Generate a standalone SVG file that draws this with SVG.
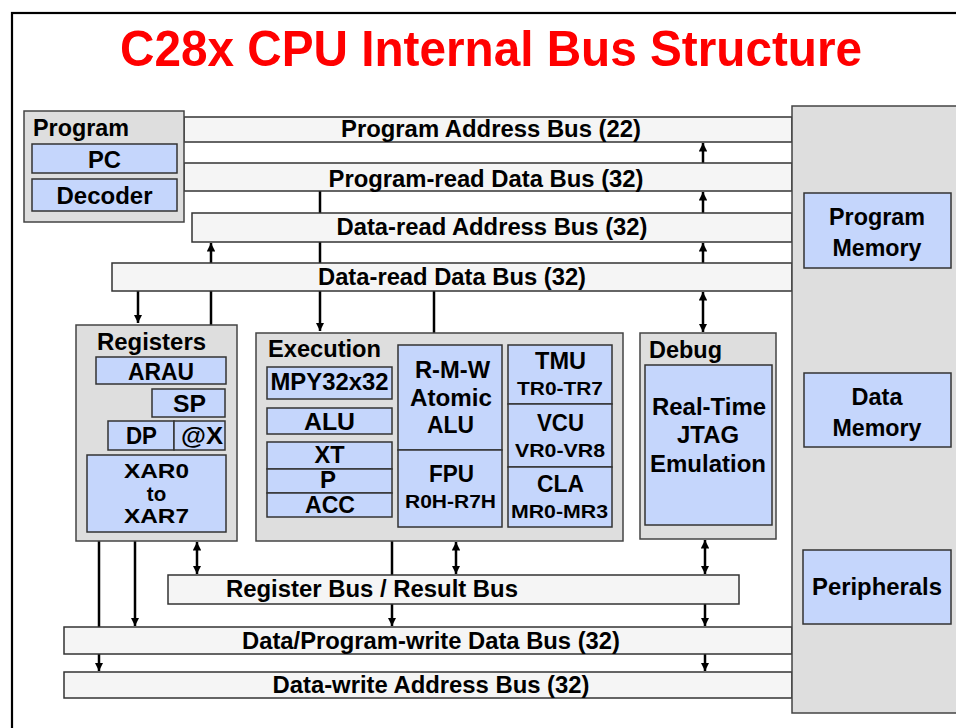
<svg xmlns="http://www.w3.org/2000/svg" width="956" height="728" viewBox="0 0 956 728">
<style>
text{font-family:"Liberation Sans",Arial,Helvetica,sans-serif;font-weight:bold;fill:#000}
.t{font-size:50px;fill:#ff0000}
.l{font-size:23px}
.b{font-size:23.5px;text-anchor:middle}
.m{font-size:23px;text-anchor:middle}
.s{font-size:18.5px;text-anchor:middle}
.x{font-size:20.5px;text-anchor:middle}
.grp{fill:#dedede;stroke:#444;stroke-width:1.5}
.blu{fill:#c5d6fc;stroke:#333;stroke-width:1.5}
.bus{fill:#f5f5f5;stroke:#333;stroke-width:1.5}
.w{stroke:#000;stroke-width:2.5;fill:none}
</style>
<defs>
<marker id="ah" viewBox="0 0 10 10" refX="10" refY="5" markerWidth="3.4" markerHeight="3.4" orient="auto-start-reverse" markerUnits="strokeWidth">
<path d="M0,0 L10,5 L0,10 Z" fill="#000"/>
</marker>
</defs>
<rect width="956" height="728" fill="#fff"/>
<rect x="12" y="13" width="960" height="730" fill="none" stroke="#000" stroke-width="2.2"/>
<text class="t" x="120" y="66" textLength="742" lengthAdjust="spacingAndGlyphs">C28x CPU Internal Bus Structure</text>

<g id="connectors">
<line class="w" x1="320" y1="191" x2="320" y2="331" marker-end="url(#ah)"/>
<line class="w" x1="434" y1="291" x2="434" y2="343" marker-end="url(#ah)"/>
<line class="w" x1="138" y1="291" x2="138" y2="323" marker-end="url(#ah)"/>
<line class="w" x1="211" y1="357" x2="211" y2="243" marker-end="url(#ah)"/>
<line class="w" x1="703" y1="163" x2="703" y2="143" marker-end="url(#ah)"/>
<line class="w" x1="703" y1="213" x2="703" y2="192" marker-end="url(#ah)"/>
<line class="w" x1="703" y1="263" x2="703" y2="243" marker-end="url(#ah)"/>
<line class="w" x1="703" y1="292" x2="703" y2="332" marker-start="url(#ah)" marker-end="url(#ah)"/>
<line class="w" x1="99" y1="541" x2="99" y2="671" marker-end="url(#ah)"/>
<line class="w" x1="135" y1="541" x2="135" y2="626" marker-end="url(#ah)"/>
<line class="w" x1="197" y1="542" x2="197" y2="574" marker-start="url(#ah)" marker-end="url(#ah)"/>
<line class="w" x1="392" y1="541" x2="392" y2="626" marker-end="url(#ah)"/>
<line class="w" x1="456" y1="542" x2="456" y2="574" marker-start="url(#ah)" marker-end="url(#ah)"/>
<line class="w" x1="705" y1="540" x2="705" y2="574" marker-start="url(#ah)" marker-end="url(#ah)"/>
<line class="w" x1="705" y1="604" x2="705" y2="626" marker-end="url(#ah)"/>
<line class="w" x1="705" y1="654" x2="705" y2="671" marker-end="url(#ah)"/>
</g>

<g id="program-address-bus">
<rect class="bus" x="184" y="117" width="608" height="25"/>
<text class="b" x="491" y="137" textLength="300" lengthAdjust="spacingAndGlyphs">Program Address Bus (22)</text>
</g>
<g id="program-read-data-bus">
<rect class="bus" x="184" y="163" width="608" height="28"/>
<text class="b" x="486" y="187" textLength="315" lengthAdjust="spacingAndGlyphs">Program-read Data Bus (32)</text>
</g>
<g id="data-read-address-bus">
<rect class="bus" x="192" y="213" width="600" height="29"/>
<text class="b" x="492" y="235" textLength="311" lengthAdjust="spacingAndGlyphs">Data-read Address Bus (32)</text>
</g>
<g id="data-read-data-bus">
<rect class="bus" x="112" y="263" width="680" height="28"/>
<text class="b" x="452" y="285" textLength="268" lengthAdjust="spacingAndGlyphs">Data-read Data Bus (32)</text>
</g>
<g id="register-result-bus">
<rect class="bus" x="168" y="575" width="571" height="29"/>
<text class="b" x="372" y="597" textLength="292" lengthAdjust="spacingAndGlyphs">Register Bus / Result Bus</text>
</g>
<g id="data-program-write-data-bus">
<rect class="bus" x="64" y="627" width="728" height="27"/>
<text class="b" x="431" y="649" textLength="378" lengthAdjust="spacingAndGlyphs">Data/Program-write Data Bus (32)</text>
</g>
<g id="data-write-address-bus">
<rect class="bus" x="64" y="672" width="728" height="26"/>
<text class="b" x="431" y="693" textLength="317" lengthAdjust="spacingAndGlyphs">Data-write Address Bus (32)</text>
</g>

<g id="program">
<rect class="grp" x="24" y="111" width="160" height="111"/>
<text class="l" x="33" y="136" textLength="96" lengthAdjust="spacingAndGlyphs">Program</text>
<rect class="blu" x="32" y="144" width="145" height="29"/>
<text class="m" x="104.5" y="168" textLength="33" lengthAdjust="spacingAndGlyphs">PC</text>
<rect class="blu" x="32" y="179" width="145" height="32"/>
<text class="m" x="104.5" y="204" textLength="96" lengthAdjust="spacingAndGlyphs">Decoder</text>
</g>

<g id="memory">
<rect class="grp" x="792" y="106" width="180" height="607"/>
<g id="program-memory">
<rect class="blu" x="804" y="193" width="147" height="75"/>
<text class="m" x="877" y="225" textLength="96" lengthAdjust="spacingAndGlyphs">Program</text>
<text class="m" x="877" y="256" textLength="89" lengthAdjust="spacingAndGlyphs">Memory</text>
</g>
<g id="data-memory">
<rect class="blu" x="804" y="373" width="147" height="74"/>
<text class="m" x="877" y="405" textLength="51" lengthAdjust="spacingAndGlyphs">Data</text>
<text class="m" x="877" y="436" textLength="89" lengthAdjust="spacingAndGlyphs">Memory</text>
</g>
<g id="peripherals">
<rect class="blu" x="803" y="550" width="148" height="74"/>
<text class="m" x="877" y="595" textLength="130" lengthAdjust="spacingAndGlyphs">Peripherals</text>
</g>
</g>

<g id="registers">
<rect class="grp" x="76" y="325" width="161" height="216"/>
<text class="l" x="97" y="350" textLength="109" lengthAdjust="spacingAndGlyphs">Registers</text>
<rect class="blu" x="96" y="357" width="130" height="27"/>
<text class="m" x="161" y="380" textLength="66" lengthAdjust="spacingAndGlyphs">ARAU</text>
<rect class="blu" x="152" y="389" width="73" height="28"/>
<text class="m" x="189.5" y="412" textLength="33" lengthAdjust="spacingAndGlyphs">SP</text>
<rect class="blu" x="108" y="421" width="66" height="29"/>
<text class="m" x="141.5" y="444" textLength="31" lengthAdjust="spacingAndGlyphs">DP</text>
<rect class="blu" x="174" y="421" width="51" height="29"/>
<text class="m" x="202" y="444" textLength="42" lengthAdjust="spacingAndGlyphs">@X</text>
<rect class="blu" x="87" y="455" width="139" height="77"/>
<text class="x" x="156.5" y="478" textLength="65" lengthAdjust="spacingAndGlyphs">XAR0</text>
<text class="x" x="156.5" y="501">to</text>
<text class="x" x="156.5" y="523" textLength="65" lengthAdjust="spacingAndGlyphs">XAR7</text>
</g>

<g id="execution">
<rect class="grp" x="256" y="333" width="367" height="208"/>
<text class="l" x="268" y="357" textLength="113" lengthAdjust="spacingAndGlyphs">Execution</text>
<rect class="blu" x="267" y="367" width="125" height="32"/>
<text class="m" x="329.5" y="390" textLength="118" lengthAdjust="spacingAndGlyphs">MPY32x32</text>
<rect class="blu" x="267" y="408" width="125" height="26"/>
<text class="m" x="329.5" y="430" textLength="51" lengthAdjust="spacingAndGlyphs">ALU</text>
<rect class="blu" x="267" y="442" width="125" height="27"/>
<text class="m" x="329.5" y="463" textLength="30" lengthAdjust="spacingAndGlyphs">XT</text>
<rect class="blu" x="267" y="469" width="125" height="24"/>
<text class="m" x="328" y="488" textLength="16" lengthAdjust="spacingAndGlyphs">P</text>
<rect class="blu" x="267" y="493" width="125" height="24"/>
<text class="m" x="330" y="513" textLength="50" lengthAdjust="spacingAndGlyphs">ACC</text>
<rect class="blu" x="398" y="345" width="104" height="105"/>
<text class="m" x="452.5" y="378" textLength="75" lengthAdjust="spacingAndGlyphs">R-M-W</text>
<text class="m" x="451" y="406" textLength="82" lengthAdjust="spacingAndGlyphs">Atomic</text>
<text class="m" x="450.5" y="433" textLength="47" lengthAdjust="spacingAndGlyphs">ALU</text>
<rect class="blu" x="398" y="450" width="104" height="77"/>
<text class="m" x="451.5" y="482" textLength="45" lengthAdjust="spacingAndGlyphs">FPU</text>
<text class="s" x="450.5" y="508" textLength="91" lengthAdjust="spacingAndGlyphs">R0H-R7H</text>
<rect class="blu" x="508" y="345" width="104" height="59"/>
<text class="m" x="560.5" y="369" textLength="51" lengthAdjust="spacingAndGlyphs">TMU</text>
<text class="s" x="560" y="395" textLength="86" lengthAdjust="spacingAndGlyphs">TR0-TR7</text>
<rect class="blu" x="508" y="404" width="104" height="63"/>
<text class="m" x="560.5" y="431" textLength="47" lengthAdjust="spacingAndGlyphs">VCU</text>
<text class="s" x="560" y="457" textLength="90" lengthAdjust="spacingAndGlyphs">VR0-VR8</text>
<rect class="blu" x="508" y="467" width="104" height="60"/>
<text class="m" x="560.5" y="492" textLength="47" lengthAdjust="spacingAndGlyphs">CLA</text>
<text class="s" x="559.5" y="518" textLength="97" lengthAdjust="spacingAndGlyphs">MR0-MR3</text>
</g>

<g id="debug">
<rect class="grp" x="640" y="333" width="136" height="206"/>
<text class="l" x="649" y="358" textLength="73" lengthAdjust="spacingAndGlyphs">Debug</text>
<rect class="blu" x="645" y="365" width="127" height="160"/>
<text class="m" x="709" y="415" textLength="114" lengthAdjust="spacingAndGlyphs">Real-Time</text>
<text class="m" x="708" y="443" textLength="62" lengthAdjust="spacingAndGlyphs">JTAG</text>
<text class="m" x="708" y="472" textLength="116" lengthAdjust="spacingAndGlyphs">Emulation</text>
</g>
</svg>
